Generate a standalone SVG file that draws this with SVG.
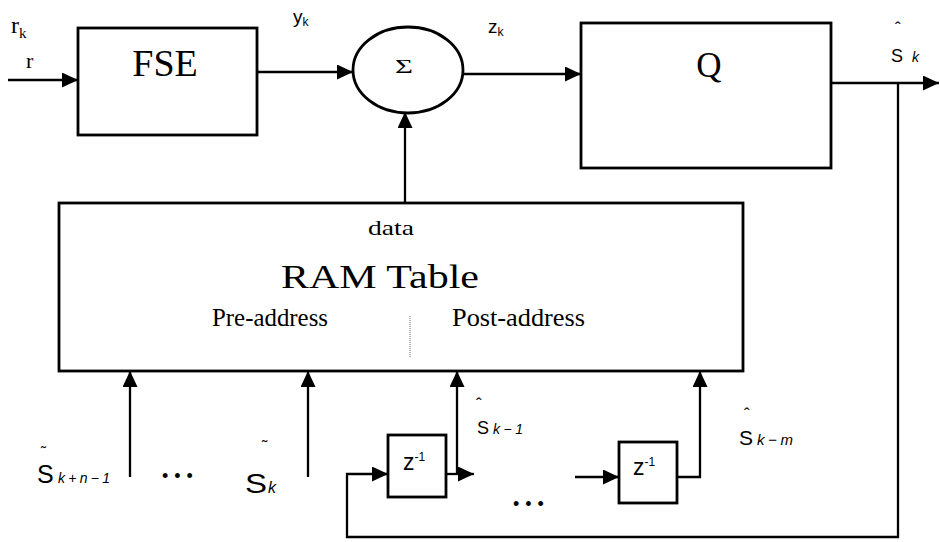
<svg xmlns="http://www.w3.org/2000/svg" width="940" height="542" viewBox="0 0 940 542">
<style>
.box{fill:#fff;stroke:#000;stroke-width:2.8}
.ln{fill:none;stroke:#000;stroke-width:2.3}
.serif{font-family:"Liberation Serif","Times New Roman",serif;fill:#000}
.sans{font-family:"Liberation Sans",Arial,sans-serif;fill:#000}
.it{font-style:italic}
</style>
<defs>
<marker id="ah" viewBox="0 0 16 15" refX="16" refY="7.5" markerWidth="16" markerHeight="15" markerUnits="userSpaceOnUse" orient="auto">
<path d="M0,0 L16,7.5 L0,15 Z" fill="#000"/>
</marker>
</defs>
<rect width="940" height="542" fill="#fff"/>
<g id="connectors">
<line class="ln" x1="8" y1="80" x2="78" y2="80" marker-end="url(#ah)"/>
<line class="ln" x1="257" y1="72" x2="353" y2="72" marker-end="url(#ah)"/>
<line class="ln" x1="463" y1="74" x2="581" y2="74" marker-end="url(#ah)"/>
<line class="ln" x1="831" y1="83" x2="939" y2="83" marker-end="url(#ah)"/>
<polyline class="ln" points="898,83 898,537 347,537 347,474 388,474" marker-end="url(#ah)"/>
<line class="ln" x1="405" y1="203" x2="405" y2="112" marker-end="url(#ah)"/>
<line class="ln" x1="130" y1="477" x2="130" y2="371" marker-end="url(#ah)"/>
<line class="ln" x1="308" y1="477" x2="308" y2="371" marker-end="url(#ah)"/>
<line class="ln" x1="446" y1="474" x2="474" y2="474" marker-end="url(#ah)"/>
<line class="ln" x1="457" y1="474" x2="457" y2="371" marker-end="url(#ah)"/>
<line class="ln" x1="575" y1="477" x2="619" y2="477" marker-end="url(#ah)"/>
<polyline class="ln" points="677,477 700,477 700,371" marker-end="url(#ah)"/>
</g>
<g id="fse">
<rect class="box" x="78" y="28" width="179" height="107"/>
<text class="serif" x="165" y="76" font-size="38" text-anchor="middle">FSE</text>
</g>
<g id="sum">
<ellipse class="box" cx="408" cy="70" rx="55" ry="43" stroke-width="2.2"/>
<text class="serif" x="395" y="73" font-size="19" textLength="18" lengthAdjust="spacingAndGlyphs">Σ</text>
</g>
<g id="q">
<rect class="box" x="581" y="23" width="250" height="145"/>
<text class="serif" x="709" y="77" font-size="35" text-anchor="middle">Q</text>
</g>
<g id="ram">
<rect class="box" x="59" y="203" width="684" height="168"/>
<text class="serif" x="368" y="235" font-size="21" textLength="46" lengthAdjust="spacingAndGlyphs">data</text>
<text class="serif" x="281" y="288" font-size="33" textLength="198" lengthAdjust="spacingAndGlyphs">RAM Table</text>
<text class="serif" x="212" y="326" font-size="25" textLength="116" lengthAdjust="spacingAndGlyphs">Pre-address</text>
<text class="serif" x="452" y="326" font-size="25" textLength="133" lengthAdjust="spacingAndGlyphs">Post-address</text>
<line x1="410" y1="316" x2="410" y2="358" stroke="#666" stroke-width="1" stroke-dasharray="1,1"/>
</g>
<g id="delay1">
<rect class="box" x="388" y="435" width="58" height="62" stroke-width="2.3"/>
<text class="sans" x="403" y="470" font-size="23">z<tspan font-size="12" dy="-9">-1</tspan></text>
</g>
<g id="delay2">
<rect class="box" x="619" y="442" width="58" height="61" stroke-width="2.3"/>
<text class="sans" x="633" y="475" font-size="23">z<tspan font-size="12" dy="-9">-1</tspan></text>
</g>
<g id="labels">
<text class="serif" x="11" y="33" font-size="24">r<tspan font-size="15" dy="5">k</tspan></text>
<text class="serif" x="26" y="68" font-size="22">r</text>
<text class="sans" x="293" y="23" font-size="19">y<tspan font-size="12" dy="3">k</tspan></text>
<text class="sans" x="488" y="33" font-size="19">z<tspan font-size="12" dy="3">k</tspan></text>
<text class="sans" x="895" y="34" font-size="17">ˆ</text>
<text class="sans" x="891" y="62" font-size="18">S<tspan class="it" font-size="14" dx="9">k</tspan></text>
<text class="sans" x="41" y="457" font-size="15">˜</text>
<text class="sans" x="37" y="483" font-size="25">S</text>
<text class="sans it" x="58" y="483" font-size="14" textLength="52" lengthAdjust="spacing">k+n−1</text>
<text class="sans" x="162" y="482" font-size="18" letter-spacing="6">•••</text>
<text class="sans" x="262" y="452" font-size="16">˜</text>
<text class="sans" x="245" y="493" font-size="28" textLength="22" lengthAdjust="spacingAndGlyphs">S</text>
<text class="sans it" x="268" y="493" font-size="16">k</text>
<text class="sans" x="476" y="410" font-size="17">ˆ</text>
<text class="sans" x="477" y="434" font-size="18">S</text>
<text class="sans it" x="493" y="434" font-size="14" textLength="30" lengthAdjust="spacing">k−1</text>
<text class="sans" x="513" y="510" font-size="18" letter-spacing="6">•••</text>
<text class="sans" x="744" y="420" font-size="17">ˆ</text>
<text class="sans" x="739" y="445" font-size="21">S</text>
<text class="sans it" x="757" y="445" font-size="15" textLength="36" lengthAdjust="spacing">k−m</text>
</g>
</svg>
